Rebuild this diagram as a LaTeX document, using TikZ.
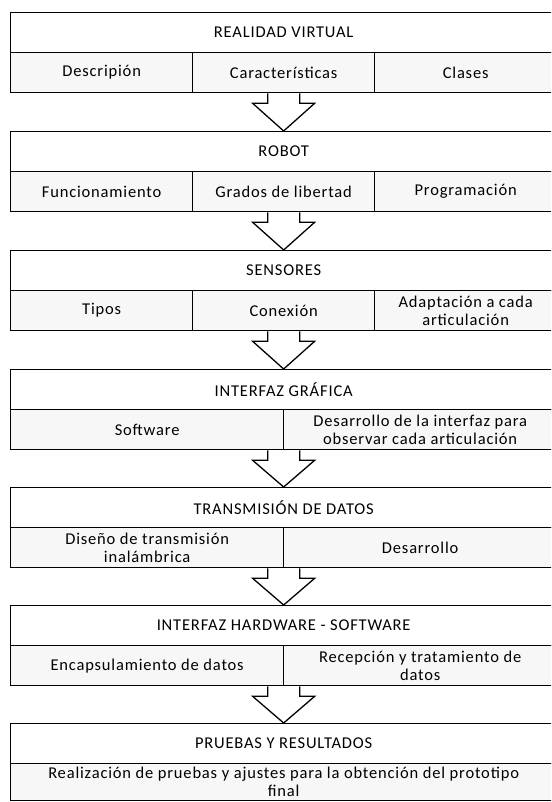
\documentclass[tikz,border=0pt]{standalone}
\usepackage{fontspec}
\setmainfont{Carlito}[LetterSpace=5]
\usetikzlibrary{calc}
\newcommand\fs{\fontsize{16.5}{18}\selectfont}
\tikzset{
  hdr/.style={draw, line width=1.3pt, fill=white, minimum width=546pt, minimum height=40pt,
    anchor=north west, inner sep=0pt, font=\fs},
  subcell/.style={draw, line width=1.3pt, fill=black!3, minimum height=40pt,
    anchor=north west, inner sep=0pt, align=center, font=\fs},
  third/.style={subcell, minimum width=182pt},
  half/.style={subcell, minimum width=273pt},
  full/.style={subcell, minimum width=546pt, minimum height=37pt},
  barrow/.style={draw, line width=1.3pt, fill=white, line join=miter},
}
\newcommand\blockarrow[2]{%
  \draw[barrow] let \p1=(#1), \p2=(#2) in
    (\x1-16pt,\y1) -- (\x1-16pt,\y1-10pt) -- (\x1-31pt,\y1-10pt) -- (\x2,\y2)
    -- (\x1+31pt,\y1-10pt) -- (\x1+16pt,\y1-10pt) -- (\x1+16pt,\y1);}
\begin{document}
\begin{tikzpicture}[x=1pt,y=1pt]
\useasboundingbox (0,0) rectangle (551,-802);
\clip (0,0) rectangle (551,-802);
% Block 1
\node[hdr] (h1) at (10,-12) {REALIDAD VIRTUAL};
\node[third] (s1a) at (10,-52) {Descripión};
\node[third] (s1b) at (192,-52) {Características};
\node[third] (s1c) at (374,-52) {Clases};
% Block 2
\node[hdr] (h2) at (10,-131) {ROBOT};
\node[third] (s2a) at (10,-171) {Funcionamiento};
\node[third] (s2b) at (192,-171) {Grados de libertad};
\node[third] (s2c) at (374,-171) {Programación};
% Block 3
\node[hdr] (h3) at (10,-250) {SENSORES};
\node[third] (s3a) at (10,-290) {Tipos};
\node[third] (s3b) at (192,-290) {Conexión};
\node[third] (s3c) at (374,-290) {Adaptación a cada\\articulación};
% Block 4
\node[hdr] (h4) at (10,-369) {INTERFAZ GRÁFICA};
\node[half] (s4a) at (10,-409) {Software};
\node[half] (s4b) at (283,-409) {Desarrollo de la interfaz para\\observar cada articulación};
% Block 5
\node[hdr] (h5) at (10,-487) {TRANSMISIÓN DE DATOS};
\node[half] (s5a) at (10,-527) {Diseño de transmisión\\inalámbrica};
\node[half] (s5b) at (283,-527) {Desarrollo};
% Block 6
\node[hdr] (h6) at (10,-605) {INTERFAZ HARDWARE - SOFTWARE};
\node[half] (s6a) at (10,-645) {Encapsulamiento de datos};
\node[half] (s6b) at (283,-645) {Recepción y tratamiento de\\datos};
% Block 7
\node[hdr] (h7) at (10,-723) {PRUEBAS Y RESULTADOS};
\node[full] (s7a) at (10,-763) {Realización de pruebas y ajustes para la obtención del prototipo\\final};
% Arrows
\blockarrow{h1.south |- s1a.south}{h2.north}
\blockarrow{h2.south |- s2a.south}{h3.north}
\blockarrow{h3.south |- s3a.south}{h4.north}
\blockarrow{h4.south |- s4a.south}{h5.north}
\blockarrow{h5.south |- s5a.south}{h6.north}
\blockarrow{h6.south |- s6a.south}{h7.north}
\end{tikzpicture}
\end{document}
